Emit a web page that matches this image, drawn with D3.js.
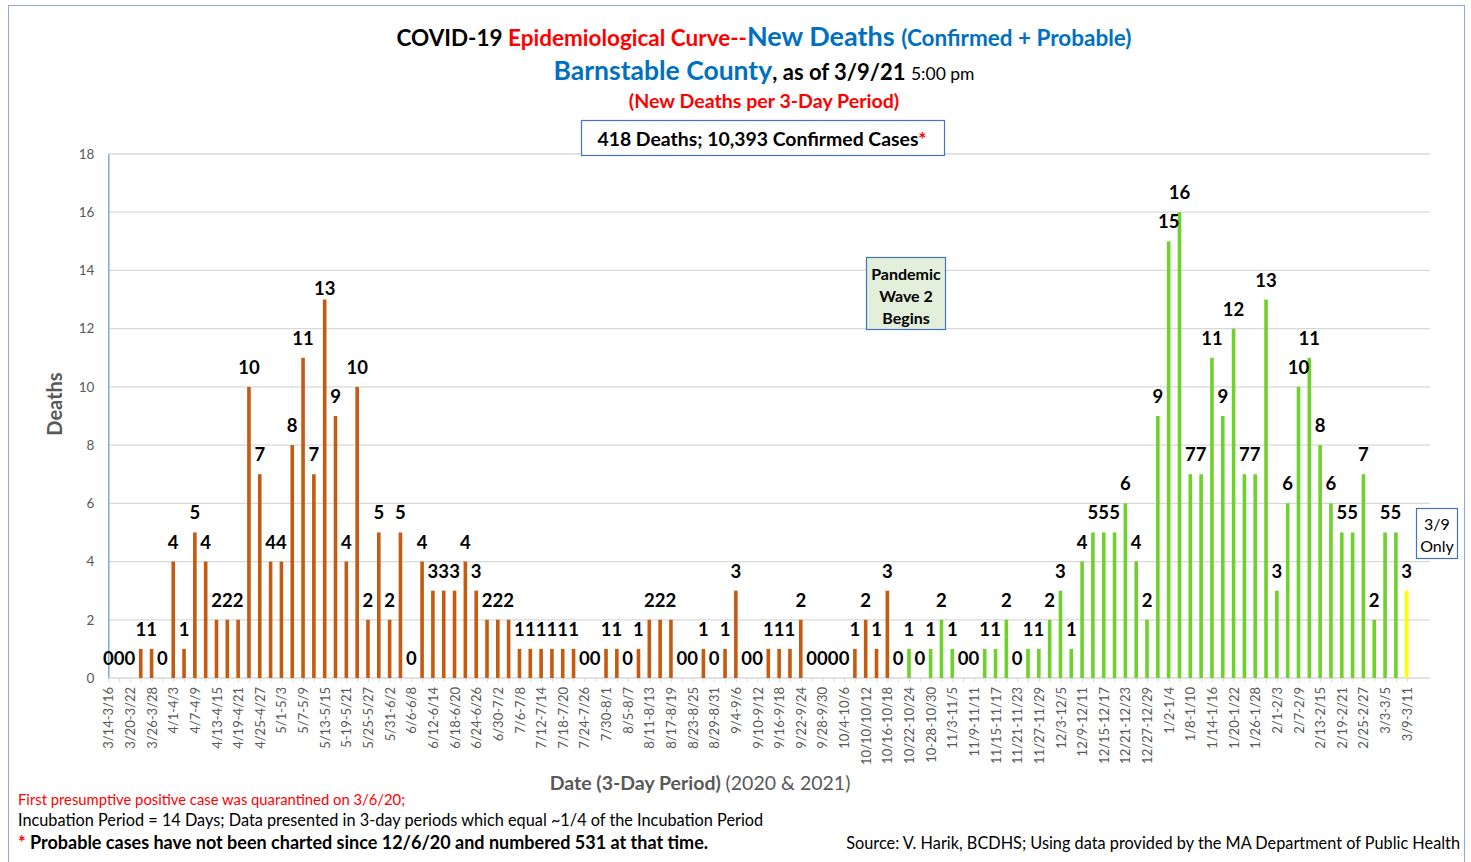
<!DOCTYPE html>
<html>
<head>
<meta charset="utf-8">
<script src="https://cdn.jsdelivr.net/npm/d3@7"></script>
<style>
  html, body { margin: 0; padding: 0; background: #fff; }
  svg { display: block; font-family: Lato, "Open Sans", sans-serif; }
</style>
</head>
<body>
<svg id="chart" width="1471" height="862"></svg>
<script>
// ---------- DATA ----------
const periods = [
  "3/14-3/16","3/17-3/19","3/20-3/22","3/23-3/25","3/26-3/28","3/29-3/31","4/1-4/3","4/4-4/6","4/7-4/9","4/10-4/12",
  "4/13-4/15","4/16-4/18","4/19-4/21","4/22-4/24","4/25-4/27","4/28-4/30","5/1-5/3","5/4-5/6","5/7-5/9","5/10-5/12",
  "5/13-5/15","5/16-5/18","5-19-5/21","5/22-5/24","5/25-5/27","5/28-5/30","5/31-6/2","6/3-6/5","6/6-6/8","6/9-6/11",
  "6/12-6/14","6/15-6/17","6/18-6/20","6/21-6/23","6/24-6/26","6/27-6/29","6/30-7/2","7/3-7/5","7/6-7/8","7/9-7/11",
  "7/12-7/14","7/15-7/17","7/18-7/20","7/21-7/23","7/24-7/26","7/27-7/29","7/30-8/1","8/2-8/4","8/5-8/7","8/8-8/10",
  "8/11-8/13","8/14-8/16","8/17-8/19","8/20-8/22","8/23-8/25","8/26-8/28","8/29-8/31","9/1-9/3","9/4-9/6","9/7-9/9",
  "9/10-9/12","9/13-9/15","9/16-9/18","9/19-9/21","9/22-9/24","9/25-9/27","9/28-9/30","10/1-10/3","10/4-10/6","10/7-10/9",
  "10/10/10/12","10/13-10/15","10/16-10/18","10/19-10/21","10/22-10/24","10/25-10/27","10-28-10/30","10/31-11/2","11/3-11/5","11/6-11/8",
  "11/9-11/11","11/12-11/14","11/15-11/17","11/18-11/20","11/21-11/23","11/24-11/26","11/27-11/29","11/30-12/2","12/3-12/5","12/6-12/8",
  "12/9-12/11","12/12-12/14","12/15-12/17","12/18-12/20","12/21-12/23","12/24-12/26","12/27-12/29","12/30-1/1","1/2-1/4","1/5-1/7",
  "1/8-1/10","1/11-1/13","1/14-1/16","1/17-1/19","1/20-1/22","1/23-1/25","1/26-1/28","1/29-1/31","2/1-2/3","2/4-2/6",
  "2/7-2/9","2/10-2/12","2/13-2/15","2/16-2/18","2/19-2/21","2/22-2/24","2/25-2/27","2/28-3/2","3/3-3/5","3/6-3/8",
  "3/9-3/11"
];
const deaths = [
  0,0,0,1,1,0,4,1,5,4,
  2,2,2,10,7,4,4,8,11,7,
  13,9,4,10,2,5,2,5,0,4,
  3,3,3,4,3,2,2,2,1,1,
  1,1,1,1,0,0,1,1,0,1,
  2,2,2,0,0,1,0,1,3,0,
  0,1,1,1,2,0,0,0,0,1,
  2,1,3,0,1,0,1,2,1,0,
  0,1,1,2,0,1,1,2,3,1,
  4,5,5,5,6,4,2,9,15,16,
  7,7,11,9,12,7,7,13,3,6,
  10,11,8,6,5,5,7,2,5,5,
  3
];
// wave assignment per period: "wave1" through 10/16-10/18, "wave2" after, "partial" for last (3/9 only)
const waveOf = periods.map((p, i) => i <= 72 ? "wave1" : (i === periods.length - 1 ? "partial" : "wave2"));
const yTicks = [0,2,4,6,8,10,12,14,16,18];
const labelledPeriods = periods.filter((p, i) => i % 2 === 0);

// ---------- STYLE ----------
const colors = { wave1: "#c55a11", wave2: "#6fd12c", partial: "#ffff00" };
const BLUE = "#0070c0", RED = "#ff0000", GRAY = "#595959";

const svg = d3.select("#chart");

// outer border
svg.append("rect").attr("x", 8.5).attr("y", 5.5).attr("width", 1456).attr("height", 870)
  .attr("fill", "none").attr("stroke", "#8eaadb").attr("stroke-width", 1);

const plotLeft = 108.3, plotRight = 1430, plotTop = 154, plotBottom = 678;
const step = 10.82;
const x = d3.scalePoint().domain(periods).range([plotLeft, plotLeft + step * (periods.length - 1)]);
const y = d3.scaleLinear().domain([0, 18]).range([plotBottom, plotTop]);

// gridlines
svg.append("g").selectAll("line").data(yTicks.filter(d => d > 0)).join("line")
  .attr("x1", plotLeft).attr("x2", plotRight)
  .attr("y1", d => y(d)).attr("y2", d => y(d))
  .attr("stroke", "#d9d9d9").attr("stroke-width", 1.3);

// y axis
const yAxis = svg.append("g").attr("transform", `translate(${plotLeft},0)`)
  .call(d3.axisLeft(y).tickValues(yTicks).tickSize(0).tickPadding(14));
yAxis.select(".domain").attr("stroke", "#6f9bd8").attr("stroke-width", 1.3);
yAxis.selectAll("text").attr("fill", GRAY).attr("font-size", 13.5).attr("font-family", "Lato, sans-serif");

// x axis
const xAxis = svg.append("g").attr("transform", `translate(0,${plotBottom})`)
  .call(d3.axisBottom(x).tickValues(periods).tickSize(4)
    .tickFormat((d, i) => labelledPeriods.includes(d) ? d : ""));
xAxis.select(".domain").remove();
xAxis.append("line").attr("x1", plotLeft).attr("x2", plotRight).attr("y1", 0).attr("y2", 0)
  .attr("stroke", "#d9d9d9").attr("stroke-width", 1.3);
xAxis.selectAll(".tick line").attr("stroke", "#d9d9d9");
xAxis.selectAll(".tick text")
  .attr("transform", "rotate(-90)")
  .attr("x", -9).attr("y", 0).attr("dy", "0.35em")
  .attr("text-anchor", "end")
  .attr("fill", GRAY).attr("font-size", 13).attr("font-family", "Lato, sans-serif");

// bars
const bw = 3.6;
svg.append("g").selectAll("rect").data(periods).join("rect")
  .attr("x", d => x(d) - bw / 2)
  .attr("y", (d, i) => y(deaths[i]))
  .attr("width", bw)
  .attr("height", (d, i) => y(0) - y(deaths[i]))
  .attr("fill", (d, i) => colors[waveOf[i]]);

// data labels (the 5/13-5/15 label sits a little lower in the original)
svg.append("g").selectAll("text").data(periods).join("text")
  .attr("x", d => x(d))
  .attr("y", (d, i) => y(deaths[i]) - (i === 20 ? 5 : 13))
  .attr("text-anchor", "middle")
  .attr("font-size", 18.5).attr("font-weight", "bold").attr("fill", "#000")
  .text((d, i) => deaths[i]);

// titles
const t1 = svg.append("text").attr("x", 764).attr("y", 46).attr("text-anchor", "middle").attr("font-weight", "bold");
t1.append("tspan").attr("fill", "#000").attr("font-size", 22.5).text("COVID-19 ");
t1.append("tspan").attr("fill", RED).attr("font-size", 22.5).text("Epidemiological Curve--");
t1.append("tspan").attr("fill", BLUE).attr("font-size", 27).text("New Deaths ");
t1.append("tspan").attr("fill", BLUE).attr("font-size", 22.5).text("(Confirmed + Probable)");

const t2 = svg.append("text").attr("x", 764).attr("y", 80).attr("text-anchor", "middle").attr("font-weight", "bold");
t2.append("tspan").attr("fill", BLUE).attr("font-size", 26.5).text("Barnstable County");
t2.append("tspan").attr("fill", "#000").attr("font-size", 22).text(", as of 3/9/21 ");
t2.append("tspan").attr("fill", "#000").attr("font-size", 17.5).attr("font-weight", "normal").text("5:00 pm");

svg.append("text").attr("x", 764).attr("y", 108).attr("text-anchor", "middle")
  .attr("font-weight", "bold").attr("font-size", 19.6).attr("fill", RED)
  .text("(New Deaths per 3-Day Period)");

// summary box
svg.append("rect").attr("x", 581.5).attr("y", 120.5).attr("width", 363).attr("height", 35)
  .attr("fill", "#fff").attr("stroke", "#4472c4").attr("stroke-width", 1.2);
const sb = svg.append("text").attr("x", 762).attr("y", 145.5).attr("text-anchor", "middle")
  .attr("font-weight", "bold").attr("font-size", 19.4);
sb.append("tspan").attr("fill", "#000").text("418 Deaths; 10,393 Confirmed Cases");
sb.append("tspan").attr("fill", RED).text("*");

// pandemic wave 2 box
svg.append("rect").attr("x", 866.5).attr("y", 257.5).attr("width", 79).attr("height", 72)
  .attr("fill", "#e2efda").attr("stroke", "#4472c4").attr("stroke-width", 1.2);
["Pandemic", "Wave 2", "Begins"].forEach((s, i) => {
  svg.append("text").attr("x", 906).attr("y", 279.5 + i * 22).attr("text-anchor", "middle")
    .attr("font-weight", "bold").attr("font-size", 16).attr("fill", "#000").text(s);
});

// 3/9 only box
svg.append("rect").attr("x", 1416.5).attr("y", 508.5).attr("width", 41).attr("height", 50)
  .attr("fill", "#fff").attr("stroke", "#4472c4").attr("stroke-width", 1.2);
["3/9", "Only"].forEach((s, i) => {
  svg.append("text").attr("x", 1437).attr("y", 530 + i * 22).attr("text-anchor", "middle")
    .attr("font-size", 16).attr("fill", "#000").text(s);
});

// axis titles
svg.append("text").attr("transform", "translate(62,404) rotate(-90)").attr("text-anchor", "middle")
  .attr("font-weight", "bold").attr("font-size", 20).attr("fill", GRAY).text("Deaths");

const xt = svg.append("text").attr("x", 700).attr("y", 790).attr("text-anchor", "middle").attr("fill", GRAY).attr("font-size", 19.5);
xt.append("tspan").attr("font-weight", "bold").text("Date (3-Day Period) ");
xt.append("tspan").text("(2020 & 2021)");

// footnotes
svg.append("text").attr("x", 18).attr("y", 805).attr("font-size", 14.8).attr("fill", RED)
  .text("First presumptive positive case was quarantined on 3/6/20;");
svg.append("text").attr("x", 18).attr("y", 826).attr("font-size", 16.3).attr("fill", "#000")
  .text("Incubation Period = 14 Days; Data presented in 3-day periods which equal ~1/4 of the Incubation Period");
const fn = svg.append("text").attr("x", 18).attr("y", 849).attr("font-size", 18).attr("font-weight", "bold");
fn.append("tspan").attr("fill", RED).text("* ");
fn.append("tspan").attr("fill", "#000").text("Probable cases have not been charted since 12/6/20 and numbered 531 at that time.");
svg.append("text").attr("x", 1460).attr("y", 849).attr("text-anchor", "end").attr("font-size", 16.3).attr("fill", "#000")
  .text("Source: V. Harik, BCDHS; Using data provided by the MA Department of Public Health");
</script>
</body>
</html>
